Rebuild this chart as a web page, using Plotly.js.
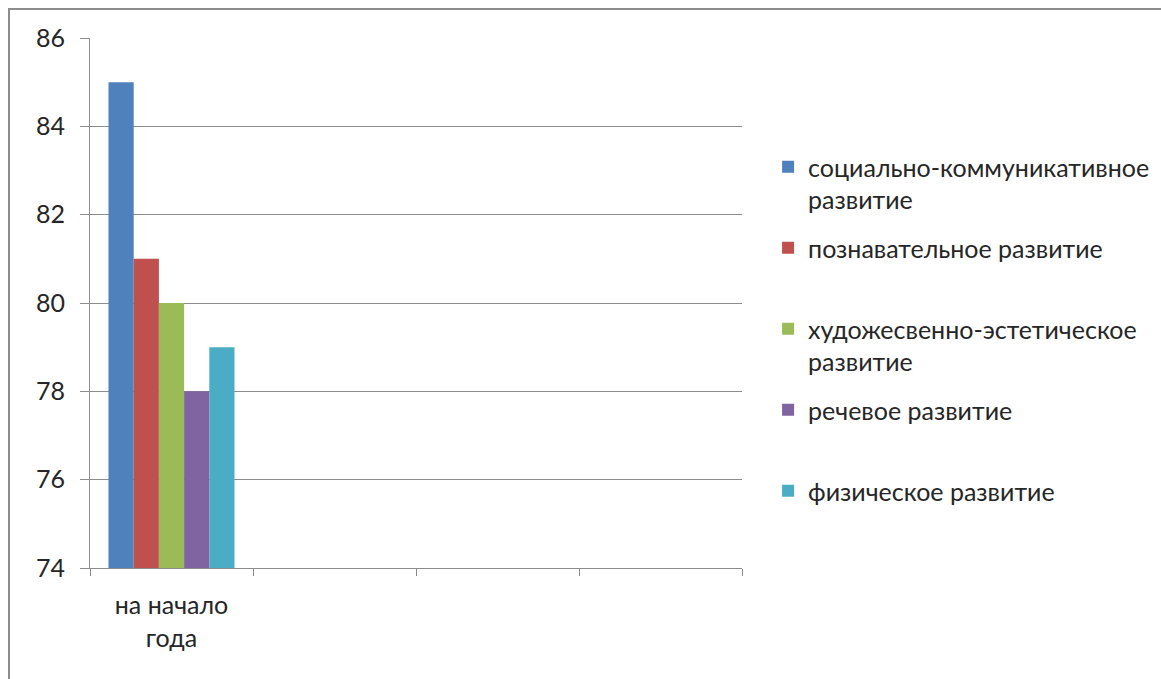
<!DOCTYPE html>
<html>
<head>
<meta charset="utf-8">
<script src="https://cdn.plot.ly/plotly-3.0.1.min.js"></script>
<style>
html,body{margin:0;padding:0;background:#fff;}
#frame{position:absolute;left:8px;top:8px;width:1200px;height:720px;border-left:2px solid #8c8c8c;border-top:2px solid #8c8c8c;}
#chart{position:absolute;left:0;top:0;width:1161px;height:679px;}
</style>
</head>
<body>
<div id="frame"></div>
<div id="chart"></div>
<script>
const categories = ["на начало<br>года", " ", "  ", "   "];
const seriesNames = [
  "социально-коммуникативное<br>развитие",
  "познавательное развитие<br>\u00a0",
  "художесвенно-эстетическое<br>развитие",
  "речевое развитие<br>\u00a0",
  "физическое развитие<br>\u00a0"
];
const seriesValues = [85, 81, 80, 78, 79];
const seriesColors = ["#4F81BD", "#C0504D", "#9BBB59", "#8064A2", "#4BACC6"];
const yTicks = [74, 76, 78, 80, 82, 84, 86];

const FONT = "Lato, 'Open Sans', sans-serif";
const traces = seriesNames.map((name, i) => ({
  type: "bar",
  name: name,
  x: [categories[0]],
  y: [seriesValues[i]],
  base: 0,
  legendgroup: "g" + i,
  marker: {color: seriesColors[i], line: {width: 0}},
  hoverinfo: "skip"
}));

const layout = {
  width: 1161, height: 679,
  margin: {l: 90, r: 419, t: 38, b: 111, autoexpand: false},
  paper_bgcolor: "rgba(0,0,0,0)",
  plot_bgcolor: "rgba(0,0,0,0)",
  barmode: "group",
  bargap: 0.227,
  bargroupgap: 0,
  font: {family: FONT, size: 25, color: "#262626"},
  xaxis: {
    type: "category",
    categoryorder: "array",
    categoryarray: categories,
    range: [-0.5, 3.5],
    tickson: "boundaries",
    ticks: "outside",
    ticklen: 7,
    tickcolor: "#8c8c8c",
    showline: true,
    linecolor: "#8c8c8c",
    linewidth: 1,
    showgrid: false,
    zeroline: false,
    automargin: false,
    ticklabelstandoff: 15,
    tickfont: {family: FONT, size: 25, color: "#262626"}
  },
  yaxis: {
    range: [74, 86],
    tickvals: yTicks,
    ticktext: yTicks.map(String),
    ticks: "outside",
    ticklen: 9,
    tickcolor: "#8c8c8c",
    showline: true,
    linecolor: "#8c8c8c",
    linewidth: 1,
    showgrid: true,
    gridcolor: "#8c8c8c",
    gridwidth: 1,
    zeroline: false,
    automargin: false,
    ticklabelstandoff: 10,
    tickfont: {family: FONT, size: 25, color: "#262626"}
  },
  showlegend: true,
  legend: {
    x: 1.04, xanchor: "left",
    y: 0.80, yanchor: "top",
    valign: "top",
    traceorder: "grouped",
    tracegroupgap: 13,
    itemwidth: 30,
    font: {family: FONT, size: 25, color: "#262626"},
    bgcolor: "rgba(0,0,0,0)"
  }
};

Plotly.newPlot("chart", traces, layout, {displayModeBar: false, staticPlot: true});
</script>
</body>
</html>
